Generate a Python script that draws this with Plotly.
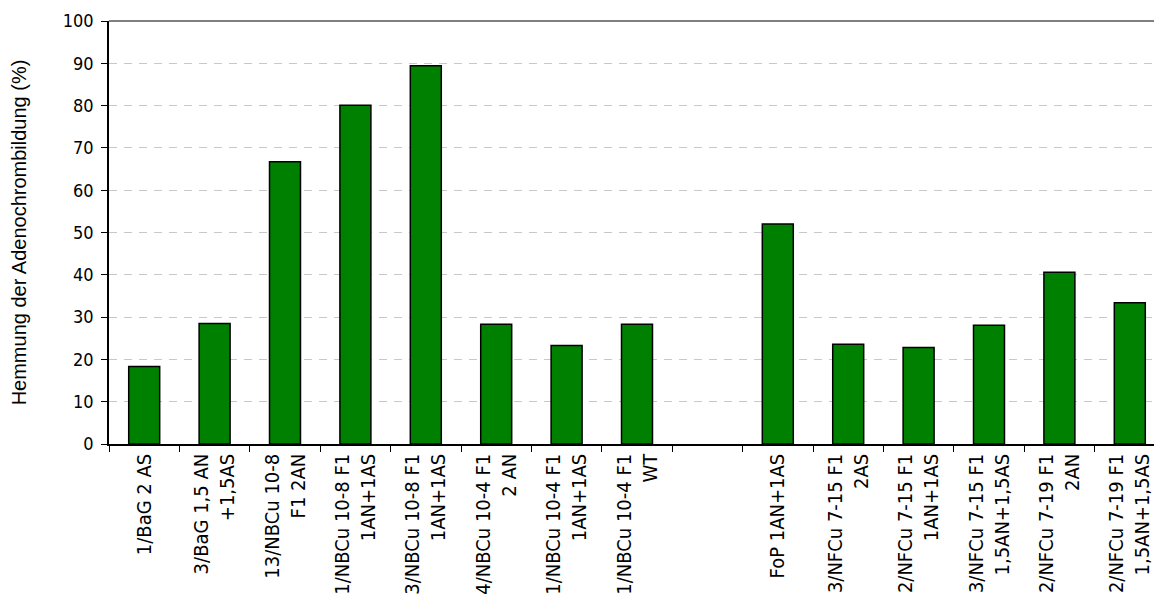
import plotly.graph_objects as go

categories = [
    "1/BaG 2 AS",
    "3/BaG 1,5 AN<br>+1,5AS",
    "13/NBCu 10-8<br>F1 2AN",
    "1/NBCu 10-8 F1<br>1AN+1AS",
    "3/NBCu 10-8 F1<br>1AN+1AS",
    "4/NBCu 10-4 F1<br>2 AN",
    "1/NBCu 10-4 F1<br>1AN+1AS",
    "1/NBCu 10-4 F1<br>WT",
    " ",
    "FoP 1AN+1AS",
    "3/NFCu 7-15 F1<br>2AS",
    "2/NFCu 7-15 F1<br>1AN+1AS",
    "3/NFCu 7-15 F1<br>1,5AN+1,5AS",
    "2/NFCu 7-19 F1<br>2AN",
    "2/NFCu 7-19 F1<br>1,5AN+1,5AS",
]
values = [18.3, 28.5, 66.7, 80.1, 89.4, 28.3, 23.3, 28.3, None,
          52.0, 23.6, 22.8, 28.1, 40.6, 33.4]
y_ticks = [0, 10, 20, 30, 40, 50, 60, 70, 80, 90, 100]
y_title = "Hemmung der Adenochrombildung (%)"

FONT = "DejaVu Sans Condensed, DejaVu Sans"

fig = go.Figure(go.Bar(
    x=categories, y=values,
    marker=dict(color="#008000", line=dict(color="#000000", width=1.5)),
))

# page body has an 8px default margin, compensated in the figure margins
fig.update_layout(
    width=1162, height=601,
    margin=dict(l=101, r=5, t=13, b=165),
    plot_bgcolor="white", paper_bgcolor="white",
    bargap=0.56, showlegend=False,
    font=dict(family=FONT, color="#000000"),
)
fig.update_xaxes(
    type="category", tickangle=-90, tickson="boundaries",
    ticks="outside", ticklen=6, tickcolor="#000000",
    showline=True, linecolor="#000000", linewidth=1.5,
    showgrid=False, automargin=False,
    tickfont=dict(size=20, family=FONT),
)
fig.update_yaxes(
    range=[0, 100], tickvals=y_ticks, ticks="outside", ticklen=6,
    tickcolor="#000000", showline=True, linecolor="#000000", linewidth=1.5,
    showgrid=True, gridcolor="#c8c8c8", griddash="8px,7px", gridwidth=1,
    zeroline=False, automargin=False, ticklabelstandoff=4,
    tickfont=dict(size=18, family=FONT),
    title=dict(text=y_title, font=dict(size=20, family="Liberation Sans"), standoff=35),
)
fig.add_shape(type="line", xref="paper", yref="paper", x0=0, x1=1, y0=1, y1=1,
              line=dict(color="#808080", width=2))

fig.write_html("out.html")
